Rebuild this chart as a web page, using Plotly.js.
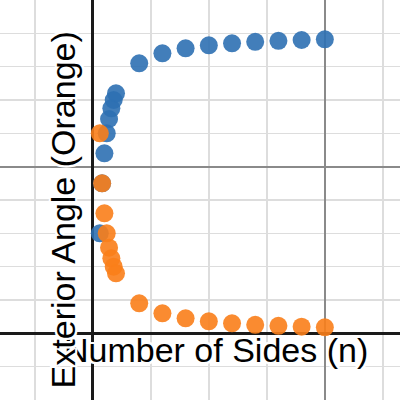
<!DOCTYPE html>
<html>
<head>
<meta charset="utf-8">
<script src="https://cdn.plot.ly/plotly-3.0.1.min.js"></script>
<style>html,body{margin:0;padding:0;background:#fff;}#chart{width:400px;height:400px;}</style>
</head>
<body>
<div id="chart"></div>
<script>
var sides = [3, 4, 5, 6, 7, 8, 9, 10, 20, 30, 40, 50, 60, 70, 80, 90, 100];
var interiorAngle = [60, 90, 108, 120, 128.6, 135, 140, 144, 162, 168, 171, 172.8, 174, 174.9, 175.5, 176, 176.4];
var exteriorAngle = [120, 90, 72, 60, 51.4, 45, 40, 36, 18, 12, 9, 7.2, 6, 5.1, 4.5, 4, 3.6];
var xLabel = "Number of Sides (n)";
var yLabel = "Exterior Angle (Orange)";

var outline = "2px 0 0 #fff, -2px 0 0 #fff, 0 2px 0 #fff, 0 -2px 0 #fff, 2px 2px 0 #fff, -2px -2px 0 #fff, 2px -2px 0 #fff, -2px 2px 0 #fff";
var labelFont = {family: "Liberation Sans, Arial, sans-serif", size: 34, color: "#000", shadow: outline};

var traces = [
  {x: sides, y: interiorAngle, type: "scatter", mode: "markers",
   marker: {color: "#2d70b3", size: 18, opacity: 0.9}, hoverinfo: "none"},
  {x: sides, y: exteriorAngle, type: "scatter", mode: "markers",
   marker: {color: "#fa7e19", size: 18, opacity: 0.9}, hoverinfo: "none"}
];

var layout = {
  width: 400, height: 400,
  margin: {l: 0, r: 0, t: 0, b: 0},
  paper_bgcolor: "#fff", plot_bgcolor: "#fff",
  showlegend: false,
  xaxis: {range: [-40, 132.4], showticklabels: false, ticks: "",
    tick0: 0, dtick: 100, gridcolor: "#8a8a8a", gridwidth: 2,
    minor: {tick0: 0, dtick: 25, showgrid: true, gridcolor: "#dddddd", gridwidth: 1.5},
    zeroline: true, zerolinecolor: "#1a1a1a", zerolinewidth: 3, showline: false, fixedrange: true},
  yaxis: {range: [-40, 200], showticklabels: false, ticks: "",
    tick0: 0, dtick: 100, gridcolor: "#8a8a8a", gridwidth: 2,
    minor: {tick0: 0, dtick: 20, showgrid: true, gridcolor: "#dddddd", gridwidth: 1.5},
    zeroline: true, zerolinecolor: "#1a1a1a", zerolinewidth: 3, showline: false, fixedrange: true},
  annotations: [
    {text: xLabel, xref: "paper", yref: "paper", x: 0.54, y: 0.125,
     xanchor: "center", yanchor: "middle", showarrow: false, font: labelFont},
    {text: yLabel, xref: "paper", yref: "paper", x: 0.1585, y: 0.475,
     xanchor: "center", yanchor: "middle", textangle: -90, showarrow: false, font: labelFont}
  ]
};

Plotly.newPlot("chart", traces, layout, {staticPlot: true, displayModeBar: false});
</script>
</body>
</html>
